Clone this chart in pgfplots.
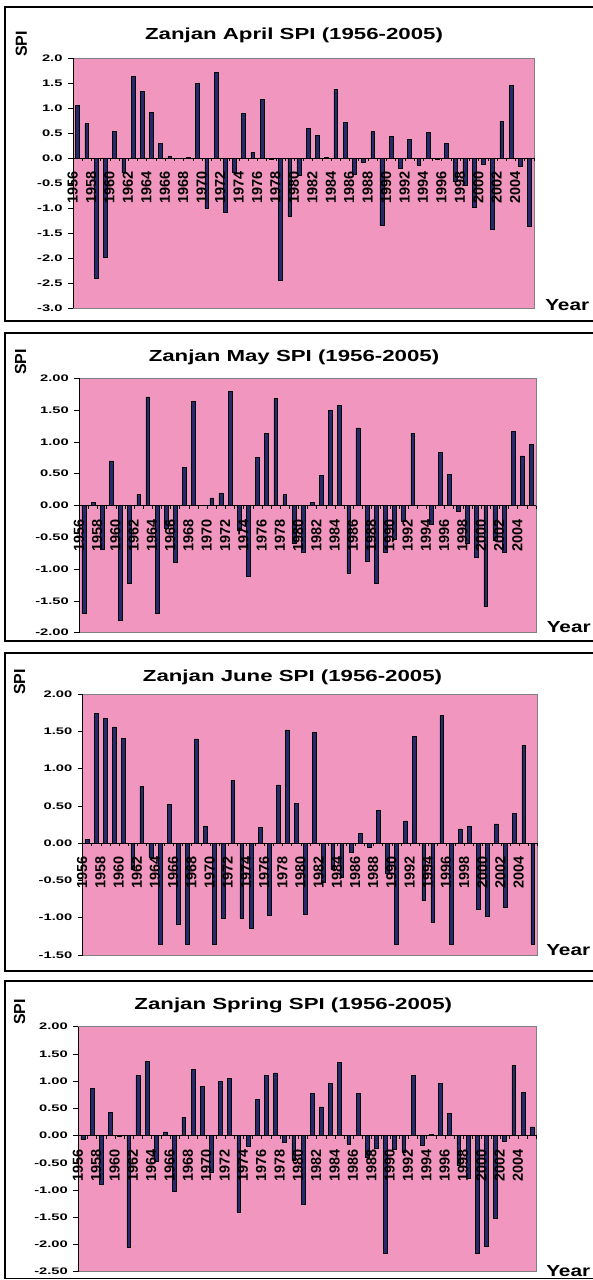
\documentclass[border=0pt]{standalone}
\usepackage{fontspec}
\setmainfont{Liberation Sans}
\usepackage{pgfplots}
\pgfplotsset{compat=1.18}
\usepackage{pgfplotstable}

\definecolor{plotpink}{RGB}{241,150,190}
\definecolor{barnavy}{RGB}{40,40,110}

\pgfplotstableread{
year spi
1956 1.05
1957 0.69
1958 -2.40
1959 -1.98
1960 0.54
1961 -0.29
1962 1.63
1963 1.33
1964 0.91
1965 0.29
1966 0.03
1967 -0.01
1968 0.02
1969 1.50
1970 -1.01
1971 1.71
1972 -1.08
1973 -0.28
1974 0.89
1975 0.12
1976 1.17
1977 -0.02
1978 -2.44
1979 -1.16
1980 -0.35
1981 0.59
1982 0.46
1983 0.01
1984 1.38
1985 0.72
1986 -0.33
1987 -0.09
1988 0.53
1989 -1.35
1990 0.44
1991 -0.21
1992 0.37
1993 -0.14
1994 0.52
1995 -0.03
1996 0.29
1997 -0.46
1998 -0.54
1999 -0.99
2000 -0.13
2001 -1.42
2002 0.74
2003 1.45
2004 -0.17
2005 -1.37
}\april

\pgfplotstableread{
year spi
1956 -1.70
1957 0.05
1958 -0.68
1959 0.70
1960 -1.81
1961 -1.22
1962 0.18
1963 1.71
1964 -1.70
1965 -0.35
1966 -0.89
1967 0.60
1968 1.64
1969 0.00
1970 0.12
1971 0.20
1972 1.79
1973 -0.39
1974 -1.11
1975 0.76
1976 1.13
1977 1.68
1978 0.17
1979 -0.60
1980 -0.74
1981 0.05
1982 0.47
1983 1.50
1984 1.57
1985 -1.06
1986 1.22
1987 -0.88
1988 -1.22
1989 -0.74
1990 -0.53
1991 -0.25
1992 1.14
1993 0.00
1994 -0.29
1995 0.83
1996 0.49
1997 -0.09
1998 -0.59
1999 -0.82
2000 -1.59
2001 -0.55
2002 -0.74
2003 1.17
2004 0.78
2005 0.96
}\may

\pgfplotstableread{
year spi
1956 0.05
1957 1.74
1958 1.67
1959 1.56
1960 1.41
1961 -0.35
1962 0.76
1963 -0.19
1964 -1.35
1965 0.52
1966 -1.09
1967 -1.35
1968 1.40
1969 0.22
1970 -1.35
1971 -1.01
1972 0.84
1973 -1.01
1974 -1.14
1975 0.21
1976 -0.97
1977 0.78
1978 1.52
1979 0.53
1980 -0.95
1981 1.49
1982 -0.52
1983 -0.35
1984 -0.46
1985 -0.12
1986 0.13
1987 -0.05
1988 0.44
1989 -0.40
1990 -1.35
1991 0.30
1992 1.43
1993 -0.77
1994 -1.06
1995 1.71
1996 -1.35
1997 0.19
1998 0.22
1999 -0.89
2000 -0.98
2001 0.26
2002 -0.86
2003 0.40
2004 1.31
2005 -1.35
}\june

\pgfplotstableread{
year spi
1956 -0.07
1957 0.87
1958 -0.89
1959 0.42
1960 -0.01
1961 -2.05
1962 1.10
1963 1.36
1964 -0.48
1965 0.07
1966 -1.02
1967 0.34
1968 1.22
1969 0.91
1970 -0.67
1971 1.00
1972 1.05
1973 -1.41
1974 -0.20
1975 0.66
1976 1.10
1977 1.15
1978 -0.12
1979 -0.45
1980 -1.27
1981 0.77
1982 0.53
1983 0.96
1984 1.35
1985 -0.15
1986 0.78
1987 -0.40
1988 -0.23
1989 -2.17
1990 -0.25
1991 -0.30
1992 1.11
1993 -0.18
1994 0.02
1995 0.96
1996 0.41
1997 -0.55
1998 -0.78
1999 -2.17
2000 -2.03
2001 -1.51
2002 -0.11
2003 1.29
2004 0.80
2005 0.16
}\spring

\pgfplotsset{
  spi/.style={
    scale only axis, anchor=south west,
    xmin=1955.5, xmax=2005.5,
    axis x line=middle, axis y line=left,
    axis line style={-, black, line width=0.8pt},
    axis background/.style={fill=plotpink, draw=gray, line width=0.6pt},
    axis on top,
    hide obscured x ticks=false, hide obscured y ticks=false,
    tick align=outside, major tick length=5pt, minor tick length=3pt,
    tick style={black, line width=0.6pt},
    major x tick style={draw=none},
    minor xtick={1955.5,1956.5,...,2005.5},
    xtick={1956,1958,...,2004},
    xticklabels={1956,1958,1960,1962,1964,1966,1968,1970,1972,1974,1976,1978,1980,1982,1984,1986,1988,1990,1992,1994,1996,1998,2000,2002,2004},
    xticklabel shift=5pt,
    xticklabel style={xshift=-5pt, rotate=90, anchor=east, font=\fontsize{14.5}{14.5}\selectfont\bfseries},
    yticklabel style={font=\fontsize{9.5}{10}\selectfont\bfseries, xscale=1.55},
    ybar, bar width=3.8pt,
  },
  spibar/.style={fill=barnavy, draw=black, line width=0.5pt},
}

\newcommand{\ttl}{\fontsize{16}{16}\selectfont\bfseries}

\begin{document}
\begin{tikzpicture}
\useasboundingbox (0,0) rectangle (593pt,-1280pt);

% panel frames
\draw[line width=1.2pt] (5pt,-7pt) rectangle (600pt,-321pt);
\draw[line width=1.2pt] (5pt,-333pt) rectangle (600pt,-641pt);
\draw[line width=1.2pt] (5pt,-653pt) rectangle (600pt,-971pt);
\draw[line width=1.2pt] (5pt,-981pt) rectangle (600pt,-1278.5pt);

% April
\begin{axis}[spi, at={(73pt,-308pt)}, width=461pt, height=250pt,
  ymin=-3, ymax=2, ytick={-3,-2.5,...,2},
  yticklabels={-3.0,-2.5,-2.0,-1.5,-1.0,-0.5,0.0,0.5,1.0,1.5,2.0}]
\addplot[spibar] table[x=year, y=spi]{\april};
\end{axis}
\node[font=\ttl, xscale=1.39, anchor=base] at (294pt,-39pt) {Zanjan April SPI (1956-2005)};
\node[font=\ttl, rotate=90, anchor=base west, inner sep=0pt] at (27pt,-57pt) {SPI};
\node[font=\ttl, xscale=1.3, anchor=base west, inner sep=0pt] at (545pt,-310pt) {Year};

% May
\begin{axis}[spi, at={(79.3pt,-632.7pt)}, width=456.7pt, height=254.4pt,
  ymin=-2, ymax=2, ytick={-2,-1.5,...,2},
  yticklabels={-2.00,-1.50,-1.00,-0.50,0.00,0.50,1.00,1.50,2.00}]
\addplot[spibar] table[x=year, y=spi]{\may};
\end{axis}
\node[font=\ttl, xscale=1.39, anchor=base] at (294pt,-361pt) {Zanjan May SPI (1956-2005)};
\node[font=\ttl, rotate=90, anchor=base west, inner sep=0pt] at (26pt,-375pt) {SPI};
\node[font=\ttl, xscale=1.3, anchor=base west, inner sep=0pt] at (546.5pt,-632pt) {Year};

% June
\begin{axis}[spi, at={(82.7pt,-955pt)}, width=454.6pt, height=261pt,
  ymin=-1.5, ymax=2, ytick={-1.5,-1,...,2},
  yticklabels={-1.50,-1.00,-0.50,0.00,0.50,1.00,1.50,2.00}]
\addplot[spibar] table[x=year, y=spi]{\june};
\end{axis}
\node[font=\ttl, xscale=1.39, anchor=base] at (292.5pt,-681.5pt) {Zanjan June SPI (1956-2005)};
\node[font=\ttl, rotate=90, anchor=base west, inner sep=0pt] at (25pt,-695pt) {SPI};
\node[font=\ttl, xscale=1.3, anchor=base west, inner sep=0pt] at (546pt,-955pt) {Year};

% Spring
\begin{axis}[spi, at={(78.3pt,-1271.7pt)}, width=458.4pt, height=245pt,
  ymin=-2.5, ymax=2, ytick={-2.5,-2,...,2},
  yticklabels={-2.50,-2.00,-1.50,-1.00,-0.50,0.00,0.50,1.00,1.50,2.00}]
\addplot[spibar] table[x=year, y=spi]{\spring};
\end{axis}
\node[font=\ttl, xscale=1.39, anchor=base] at (293.3pt,-1009pt) {Zanjan Spring SPI (1956-2005)};
\node[font=\ttl, rotate=90, anchor=base west, inner sep=0pt] at (25pt,-1025pt) {SPI};
\node[font=\ttl, xscale=1.3, anchor=base west, inner sep=0pt] at (546pt,-1276pt) {Year};
\end{tikzpicture}
\end{document}
